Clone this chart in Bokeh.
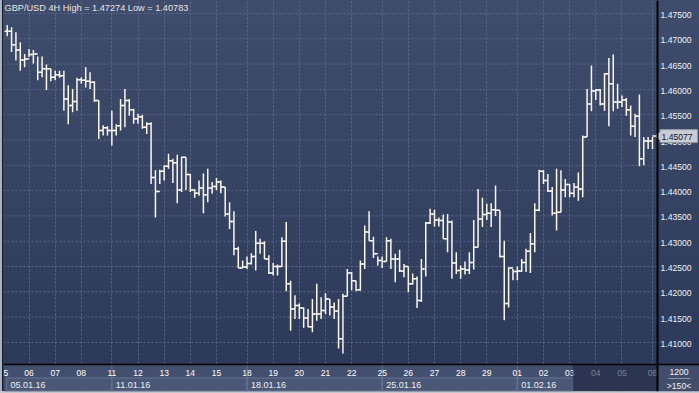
import numpy as np
from bokeh.plotting import figure
from bokeh.models import FixedTicker, Grid, Span, ColumnDataSource, Range1d
from bokeh.core.properties import value
from bokeh.embed import file_html
from bokeh.resources import INLINE

# ---------------- data (GBP/USD, 4H bars) ----------------
highs = [1.47274, 1.4723, 1.4713, 1.4693, 1.4670, 1.4680, 1.4678, 1.4665, 1.4665, 1.4649,
         1.4641, 1.4637, 1.4637, 1.4637, 1.4608, 1.4601, 1.4623, 1.4624, 1.4644, 1.4634,
         1.4616, 1.4578, 1.4529, 1.4527, 1.4558, 1.4531, 1.4581, 1.4601, 1.4581, 1.4562,
         1.4552, 1.4550, 1.4535, 1.4535, 1.4440, 1.4441, 1.4450, 1.4473, 1.4463, 1.4471,
         1.4467, 1.4466, 1.4433, 1.4403, 1.4420, 1.4434, 1.4443, 1.4417, 1.4425, 1.4420,
         1.4407, 1.4377, 1.4359, 1.4289, 1.4262, 1.4270, 1.4276, 1.4320, 1.4305, 1.4300,
         1.4272, 1.4257, 1.4254, 1.4308, 1.4338, 1.4222, 1.4193, 1.4177, 1.4169, 1.4166,
         1.4186, 1.4216, 1.4189, 1.4197, 1.4186, 1.4179, 1.4186, 1.4196, 1.4245, 1.4239,
         1.4222, 1.4262, 1.4331, 1.4359, 1.4309, 1.4270, 1.4270, 1.4308, 1.4305, 1.4275,
         1.4283, 1.4255, 1.4250, 1.4236, 1.4230, 1.4265, 1.4338, 1.4364, 1.4362, 1.4347,
         1.4353, 1.4354, 1.4341, 1.4278, 1.4252, 1.4260, 1.4278, 1.4342, 1.4403, 1.4386,
         1.4374, 1.4375, 1.4410, 1.4361, 1.4301, 1.4248, 1.4245, 1.4250, 1.4265, 1.4285,
         1.4316, 1.4375, 1.4441, 1.4440, 1.4433, 1.4407, 1.4443, 1.4440, 1.4423, 1.4413,
         1.4415, 1.4436, 1.4509, 1.4601, 1.4647, 1.4601, 1.4601, 1.4632, 1.4662, 1.4669,
         1.4611, 1.4588, 1.4583, 1.4568, 1.4552, 1.4590, 1.4506, 1.4506, 1.4506]
lows = [1.4705, 1.4674, 1.4657, 1.4637, 1.4644, 1.4664, 1.4651, 1.4618, 1.4624, 1.4599,
        1.4616, 1.4618, 1.4623, 1.4558, 1.4531, 1.4555, 1.4558, 1.4611, 1.4604, 1.4601,
        1.4575, 1.4502, 1.4509, 1.4509, 1.4489, 1.4509, 1.4519, 1.4525, 1.4548, 1.4532,
        1.4532, 1.4522, 1.4512, 1.4413, 1.4347, 1.4413, 1.4420, 1.4443, 1.4415, 1.4375,
        1.4397, 1.4401, 1.4397, 1.4386, 1.4390, 1.4355, 1.4377, 1.4394, 1.4401, 1.4395,
        1.4349, 1.4324, 1.4272, 1.4247, 1.4247, 1.4245, 1.4254, 1.4242, 1.4275, 1.4265,
        1.4235, 1.4232, 1.4232, 1.4249, 1.4201, 1.4123, 1.4146, 1.4146, 1.4129, 1.4130,
        1.4120, 1.4143, 1.4146, 1.4156, 1.4153, 1.4146, 1.4088, 1.40783, 1.4191, 1.4203,
        1.4201, 1.4202, 1.4245, 1.4301, 1.4267, 1.4252, 1.4247, 1.4260, 1.4245, 1.4219,
        1.4239, 1.4229, 1.4199, 1.4214, 1.4168, 1.4180, 1.4230, 1.4334, 1.4329, 1.4329,
        1.4305, 1.4278, 1.4226, 1.4235, 1.4226, 1.4234, 1.4235, 1.4244, 1.4288, 1.4328,
        1.4342, 1.4328, 1.4350, 1.4268, 1.4144, 1.4169, 1.4223, 1.4223, 1.4239, 1.4239,
        1.4237, 1.4278, 1.4359, 1.4413, 1.4397, 1.4351, 1.4321, 1.4357, 1.4387, 1.4387,
        1.4387, 1.4380, 1.4387, 1.4506, 1.4557, 1.4579, 1.4568, 1.4558, 1.4527, 1.4557,
        1.4562, 1.4565, 1.4548, 1.4509, 1.4506, 1.4448, 1.4450, 1.4482, 1.4482]
closes = [1.4715, 1.4688, 1.4678, 1.4658, 1.4660, 1.4669, 1.4670, 1.4634, 1.4641, 1.4641,
          1.4624, 1.4629, 1.4627, 1.4581, 1.4568, 1.4576, 1.4619, 1.4618, 1.4616, 1.4614,
          1.4578, 1.4519, 1.4524, 1.4519, 1.4519, 1.4528, 1.4568, 1.4578, 1.4560, 1.4542,
          1.4546, 1.4525, 1.4532, 1.4426, 1.4398, 1.4438, 1.4448, 1.4459, 1.4455, 1.4401,
          1.4466, 1.4432, 1.4401, 1.4395, 1.4405, 1.4392, 1.4405, 1.4408, 1.4417, 1.4407,
          1.4354, 1.4339, 1.4285, 1.4247, 1.4249, 1.4256, 1.4270, 1.4296, 1.4296, 1.4265,
          1.4237, 1.4250, 1.4250, 1.4300, 1.4216, 1.4166, 1.4173, 1.4168, 1.4148, 1.4131,
          1.4156, 1.4156, 1.4163, 1.4186, 1.4170, 1.4162, 1.4107, 1.4191, 1.4237, 1.4222,
          1.4204, 1.4255, 1.4318, 1.4301, 1.4275, 1.4262, 1.4260, 1.4301, 1.4265, 1.4265,
          1.4241, 1.4250, 1.4216, 1.4226, 1.4183, 1.4245, 1.4336, 1.4354, 1.4342, 1.4341,
          1.4305, 1.4338, 1.4257, 1.4242, 1.4245, 1.4243, 1.4258, 1.4288, 1.4344, 1.4353,
          1.4355, 1.4362, 1.4361, 1.4270, 1.4177, 1.4247, 1.4240, 1.4241, 1.4258, 1.4280,
          1.4295, 1.4361, 1.4438, 1.4420, 1.4399, 1.4355, 1.4357, 1.4401, 1.4412, 1.4395,
          1.4407, 1.4403, 1.4506, 1.4571, 1.4597, 1.4599, 1.4571, 1.4631, 1.4611, 1.4575,
          1.4575, 1.4579, 1.4560, 1.4527, 1.4547, 1.4463, 1.4498, 1.4498, 1.45077]
first_open = 1.4715
opens = [first_open] + closes[:-1]

# day / week strip (bar index at which each trading day starts)
day_labels = ["05", "06", "07", "08", "11", "12", "13", "14", "15", "18", "19", "20", "21",
              "22", "25", "26", "27", "28", "29", "01", "02", "03", "04", "05", "08"]
day_ticks = [-1, 5, 11, 17, 24, 30, 36, 42, 48, 55, 61, 67, 73, 79, 86, 92, 98, 104, 110,
             117, 123, 129, 135, 141, 148]
week_labels = ["05.01.16", "11.01.16", "18.01.16", "25.01.16", "01.02.16"]
week_ticks = [-1, 24, 55, 86, 117]
price_ticks = [1.410, 1.415, 1.420, 1.425, 1.430, 1.435, 1.440, 1.445, 1.450, 1.455,
               1.460, 1.465, 1.470, 1.475]
title_text = "GBP/USD 4H High = 1.47274 Low = 1.40783"
bars_label = "1200"
zoom_label = ">150<"
dim_from = 129.7   # start of the shaded (scroll) region on the time strip

# ---------------- layout geometry ----------------
W, H = 699, 393
LEFT, TOP, BOTTOM = 3, 0, 2
FW, FH = W - LEFT, H - TOP - BOTTOM
AXIS_X = 657               # pixel column of the price-axis line
PXX = 4.36                 # pixels per bar
PXY = 25.3 / 0.005         # pixels per price unit
X0 = -0.85
X1 = X0 + FW / PXX
Y1 = 1.475 + 13 / PXY
Y0 = Y1 - FH / PXY


def xs(px):
    return X0 + (px - LEFT) / PXX


def ys(py):
    return Y1 - (py - TOP) / PXY


FONT = "Liberation Sans"
BAR = "#fbf8f0"
GRID = "#5b6b8e"
XA = xs(AXIS_X)

p = figure(width=W, height=H, x_range=Range1d(X0, X1), y_range=Range1d(Y0, Y1),
           output_backend="svg", toolbar_location=None, tools="",
           x_axis_location=None, y_axis_location=None,
           min_border_left=LEFT, min_border_right=0,
           min_border_top=TOP, min_border_bottom=BOTTOM)
p.background_fill_alpha = 0
p.border_fill_alpha = 0
p.outline_line_color = None
p.styles = {
    "background": (
        "linear-gradient(#c3c7cf,#c3c7cf) left 0 bottom 0 / 100% 2px no-repeat,"
        "linear-gradient(#a9b3c5,#a9b3c5) left 0 top 0 / 2px 100% no-repeat,"
        "linear-gradient(#151a26,#151a26) left 2px top 0 / 1px 100% no-repeat,"
        "linear-gradient(to bottom, #3f4c6b 0%, #2c3958 93%, #2c3958 100%)"
    )
}
for g in list(p.xgrid) + list(p.ygrid):
    g.visible = False

# grid
p.add_layout(Grid(dimension=0, ticker=FixedTicker(ticks=day_ticks),
                  grid_line_color=GRID, grid_line_dash="2 2", grid_line_width=1))
p.segment(x0=X0, x1=XA, y0=price_ticks, y1=price_ticks, line_color=GRID,
          line_dash="2 2", line_width=1)

# OHLC bars
idx = np.arange(len(closes))
src = ColumnDataSource(dict(x=idx, o=opens, h=highs, l=lows, c=closes,
                            xl=idx - 0.6, xr=idx + 0.6))
p.segment(x0="x", y0="l", x1="x", y1="h", source=src, line_color=BAR, line_width=1.5)
p.segment(x0="xl", y0="o", x1="x", y1="o", source=src, line_color=BAR, line_width=1.5)
p.segment(x0="x", y0="c", x1="xr", y1="c", source=src, line_color=BAR, line_width=1.5)

# price axis (right)
p.text(x=[xs(660)] * len(price_ticks), y=price_ticks,
       text=["%.5f" % t for t in price_ticks], y_offset=1.5,
       text_align="left", text_baseline="middle", text_color="#f2f2f2",
       text_font=value(FONT), text_font_size="8.6px")

# last-price marker
lp = closes[-1]
p.quad(left=xs(659.5), right=xs(697), top=lp + 6.5 / PXY, bottom=lp - 6.5 / PXY,
       fill_color="#c8ccd4", line_color="#8f96a3", line_width=1)
p.patch(x=[xs(654.5), xs(659.5), xs(659.5)], y=[lp, lp + 3.5 / PXY, lp - 3.5 / PXY],
        fill_color="#c8ccd4", line_color="#c8ccd4")
p.text(x=[xs(661)], y=[lp], text=["%.5f" % lp], y_offset=0.5,
       text_align="left", text_baseline="middle", text_color="#10141e",
       text_font=value(FONT), text_font_size="8.6px")

# time strip
p.quad(left=X0, right=XA, top=ys(364), bottom=Y0, fill_color="#434f6e", line_color=None)
p.quad(left=XA, right=X1, top=ys(364), bottom=Y0, fill_color="#414d6b", line_color=None)
w_left = [max(t, xs(6)) for t in week_ticks]
w_right = week_ticks[1:] + [dim_from]
p.quad(left=w_left, right=w_right, top=ys(377.5), bottom=ys(390.5),
       fill_color="#4a5776", line_color="#66728f", line_width=1)
p.segment(x0=week_ticks[1:], y0=ys(364), x1=week_ticks[1:], y1=Y0,
          line_color="#66728f", line_width=1)
vis = [t >= X0 for t in day_ticks]
p.text(x=[t for t, v in zip(day_ticks, vis) if v], y=ys(372.5),
       text=[l for l, v in zip(day_labels, vis) if v],
       text_align="center", text_baseline="middle", text_color="#ffffff",
       text_font=value(FONT), text_font_size="8.5px")
# the first day's label is cut by the left edge: only its last digit shows
p.text(x=[xs(3)], y=ys(372.5),
       text=[l[-1] for l, v in zip(day_labels, vis) if not v][:1],
       text_align="left", text_baseline="middle", text_color="#ffffff",
       text_font=value(FONT), text_font_size="8.5px")
p.text(x=[l + 4 / PXX for l in w_left], y=ys(384.5), text=week_labels,
       text_align="left", text_baseline="middle", text_color="#f0f0f0",
       text_font=value(FONT), text_font_size="9px")
p.quad(left=dim_from, right=XA, top=ys(364.5), bottom=ys(390.5),
       fill_color="#1c2540", fill_alpha=0.6, line_color=None)
p.add_layout(Span(location=ys(364), dimension="width", line_color="#000000", line_width=1.5))

# bottom-right counter cell
p.text(x=[xs(678.5)], y=ys(371.5), text=[bars_label], text_align="center",
       text_baseline="middle", text_color="#f2f2f2",
       text_font=value(FONT), text_font_size="8.6px")
p.segment(x0=xs(668), x1=xs(690), y0=ys(378), y1=ys(378), line_color="#8a93a8", line_width=1)
p.text(x=[xs(678.5)], y=ys(385), text=[zoom_label], text_align="center",
       text_baseline="middle", text_color="#f2f2f2",
       text_font=value(FONT), text_font_size="8.6px")

# axis line
p.add_layout(Span(location=XA, dimension="height", line_color="#000000", line_width=2))

# title
p.text(x=[xs(4)], y=ys(2), text=[title_text], text_baseline="top",
       text_color="#e6e6e6", text_font=value(FONT), text_font_size="9.2px")

open("out.html", "w").write(file_html(p, INLINE))
